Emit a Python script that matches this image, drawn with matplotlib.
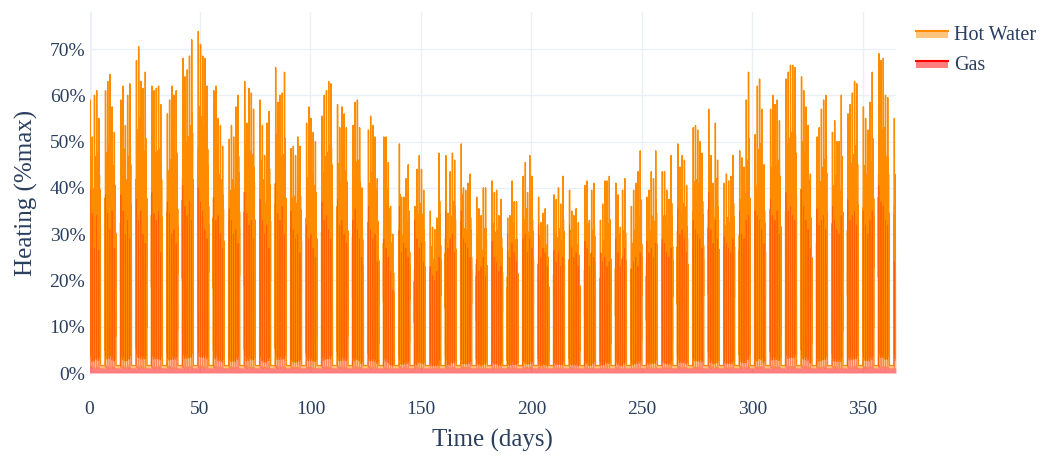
import numpy as np
import matplotlib.pyplot as plt
from matplotlib.patches import Rectangle
from matplotlib.lines import Line2D

plt.rcParams['font.family'] = ['Liberation Serif', 'DejaVu Serif']

# daily peak of the stacked top (gas + hot water), Mon..Fri of each week, in %max
total_peak = [
    [59, 51, 60, 61, 55], [61, 63, 64.5, 57.5, 52], [59, 62, 53.5, 60, 62.5],
    [67.5, 70.5, 63, 61.5, 65], [62, 61, 61.5, 62, 58], [56, 59, 62, 60, 61],
    [68, 64, 65.5, 68.5, 72], [73.8, 71, 68.5, 68, 62], [61, 62, 55, 53.5, 49],
    [50.5, 53.5, 51, 57.5, 60], [63, 54, 61.5, 60.5, 57], [59, 53.5, 47, 54, 56.5],
    [66, 58.5, 60, 60.5, 65], [48.5, 49, 47, 51, 49], [54, 57.5, 55, 52, 50],
    [55.5, 60, 61, 63, 62.5], [58, 53, 57.5, 56, 53], [53.5, 58.5, 59, 53, 40],
    [52.5, 55.5, 53.5, 51, 42], [51, 51, 45.5, 36, 30], [49.5, 38, 38, 42, 45],
    [36, 44, 47, 44, 39.5], [35, 31.5, 31, 33.5, 47.5], [47, 34.5, 43.5, 47.5, 46],
    [49.5, 40, 39.5, 41, 43], [38, 35.5, 34, 40, 40], [41.5, 39, 39.5, 34, 37.5],
    [33.5, 34, 41.5, 37, 37], [42.5, 45.5, 39, 47, 42.5], [38, 32.5, 34.5, 35.5, 32],
    [38.5, 37.5, 40, 36.5, 42.5], [39.5, 35, 34, 35.5, 32.5], [40.5, 41.5, 33, 39.5, 41],
    [33, 36.5, 41.5, 41.5, 42.5], [41, 38.5, 31.5, 39.5, 42], [36, 39.5, 41, 43.5, 48],
    [38, 39.5, 43.5, 42, 48], [43.5, 43.5, 39.5, 37.5, 47], [49.5, 44.5, 47, 46, 40.5],
    [53, 53.5, 52.5, 50, 47.5], [57, 47, 41, 54, 46], [41, 43, 41.5, 42.5, 47],
    [48, 46.5, 44.5, 59, 65], [51.5, 62, 63.5, 57, 45], [57, 60, 58, 59, 54.5],
    [63.5, 65, 66.5, 66.5, 66], [64, 61, 57.5, 53.5, 43], [51, 53, 57, 59, 60],
    [52, 54.5, 50, 50, 60], [56, 58, 60.5, 63, 62.5], [57.5, 55, 52.5, 58.5, 65],
    [69, 67.5, 68, 60, 59.5], [55],
]

# daily peak of gas, Mon..Fri of each week, in %max
gas_peak = [
    [39.5, 34.5, 27, 34, 26.5], [38.5, 34.5, 31, 35, 27], [38.5, 35, 30, 33, 29],
    [37.5, 33, 35, 30, 28], [39, 34.5, 33, 35, 26], [37, 34.5, 30, 31, 28],
    [40.5, 36, 34, 37, 33], [40, 37, 35, 31, 29], [38, 33, 34, 30, 27],
    [35.5, 33, 30, 31, 28], [39, 34.5, 32, 33, 29], [37.5, 33, 30, 32, 27],
    [41, 34.5, 33, 36, 30], [35, 31, 29, 30, 26], [32, 29, 30, 27, 25],
    [37, 33, 34, 31, 29], [37.5, 32, 33, 30, 28], [33, 35.5, 31, 29, 25],
    [36, 31, 29, 30, 24], [29, 27, 25, 22, 18], [36, 26, 28, 27, 25],
    [33, 29, 27, 28, 24], [23, 21, 20, 22, 25], [35, 27, 29, 30, 26],
    [35, 29, 28, 27, 25], [24.5, 22, 23, 25, 21], [28.5, 25, 24, 22, 23],
    [30, 25, 28, 26, 24], [29, 30, 26, 29, 27], [32, 25, 27, 26, 23],
    [26.5, 24, 26, 23, 25], [32, 27, 25, 26, 23], [28.5, 27, 23, 26, 25],
    [26, 24, 25, 23, 24], [29, 26, 23, 25, 27], [22.5, 24, 25, 23, 26],
    [28.5, 26, 27, 25, 28], [29, 28, 26, 25, 27], [35.5, 30, 31, 29, 26],
    [33, 31, 30, 29, 27], [39, 31, 28, 33, 29], [29.5, 28, 27, 26, 29],
    [35, 30, 29, 33, 34], [35, 34, 33, 31, 28], [37.5, 34, 33, 35, 30],
    [39, 35, 36, 34, 33], [39.5, 36, 33, 31, 27], [35.5, 32, 33, 34, 31],
    [36, 33, 31, 30, 34], [37.5, 33, 34, 35, 32], [35, 32, 30, 33, 35],
    [40.5, 37, 36, 33, 32], [24],
]

# hourly shape of a working day, as a fraction of that day's peak
total_shape = [0.05, 0.55, 0.30, 0.62, 0.08, 0.85, 1.00, 0.70, 0.50, 0.66, 0.10, 0.64,
               0.78, 0.45, 0.60, 0.72, 0.06, 0.55, 0.40, 0.15, 0.52, 0.35, 0.58, 0.05]
gas_shape = [0.03, 0.03, 0.03, 0.03, 0.04, 1.00, 0.45, 0.04, 0.03, 0.03, 0.03, 0.04,
             0.03, 0.03, 0.04, 0.03, 0.03, 0.03, 0.03, 0.03, 0.03, 0.03, 0.03, 0.03]
base_gas = 1.0        # level on weekends
base_hot_water = 0.6

gas = []
top = []
for d in range(365):
    week, wd = divmod(d, 7)
    for h in range(24):
        if wd < 5:
            g = max(gas_peak[week][wd] * gas_shape[h], base_gas)
            t = max(total_peak[week][wd] * total_shape[h], g + base_hot_water)
        else:
            g = base_gas
            t = g + base_hot_water
        gas.append(g)
        top.append(t)
x = np.arange(len(gas)) / 24
gas = np.array(gas)
top = np.array(top)

W, H = 1041, 457
fig = plt.figure(figsize=(W / 100, H / 100), dpi=100)
ax = fig.add_axes([89.5 / W, 1 - 373 / H, (896 - 89.5) / W, (373 - 12) / H])

orange = '#FF8C00'
ax.fill_between(x, 0, gas, color=(1, 0, 0, 0.5), lw=0, zorder=1)
ax.fill_between(x, gas, top, color=(1, 0.549, 0, 0.5), lw=0, zorder=1.1)
ax.plot(x, top, color=orange, lw=1, zorder=1.2)
ax.plot(x, gas, color='red', lw=0.6, alpha=0.3, zorder=1.3)

ax.set_xlim(0, 365)
ax.set_ylim(0, 78)
ax.set_xticks(range(0, 351, 50))
ax.set_yticks(range(0, 71, 10))
ax.set_yticklabels([f'{v}%' for v in range(0, 71, 10)])
ax.tick_params(length=0, labelsize=14, colors='#2a3f5f')
ax.tick_params(axis='x', pad=20)
ax.tick_params(axis='y', pad=3)
for s in ax.spines.values():
    s.set_visible(False)
ax.set_axisbelow(True)
ax.grid(color='#EBF0F8', lw=1)
ax.axvline(0, color='#EBF0F8', lw=2, zorder=0.5)

ax.set_xlabel('Time (days)', fontsize=18, color='#2a3f5f', labelpad=8)
ax.set_ylabel('Heating (%max)', fontsize=18, color='#2a3f5f', labelpad=8)

# legend (stacked traces listed top first)
def fx(px):
    return px / W

def fy(py):
    return 1 - py / H

items = [('Hot Water', orange, (1, 0.549, 0, 0.5), 30),
         ('Gas', 'red', (1, 0, 0, 0.5), 60)]
for label, lc, fc, y0 in items:
    fig.add_artist(Rectangle((fx(916), fy(y0 + 8)), fx(948) - fx(916), 8 / H,
                             transform=fig.transFigure, fc=fc, ec='none'))
    fig.add_artist(Line2D([fx(916), fx(948)], [fy(y0 + 1), fy(y0 + 1)],
                          transform=fig.transFigure, color=lc, lw=1.5))
    fig.text(fx(954), fy(y0 + 5), label, fontsize=14.5, color='#2a3f5f',
             va='center', ha='left')

fig.savefig('out.png', dpi=100)
